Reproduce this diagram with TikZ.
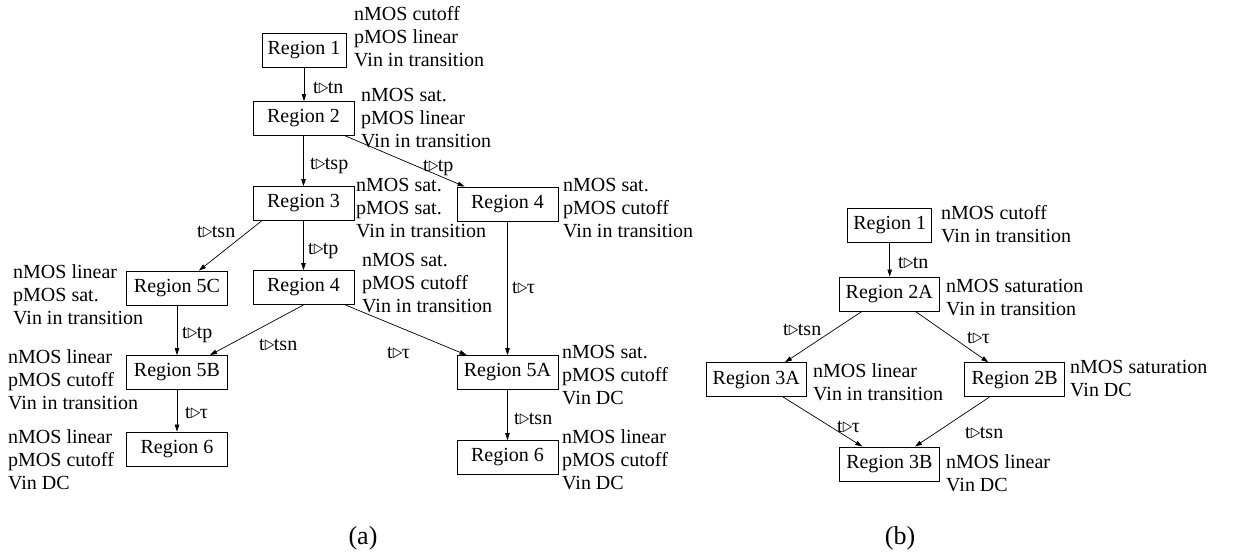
\documentclass[tikz,border=0pt]{standalone}
\usepackage{fontspec}
\setmainfont{Liberation Serif}
\usetikzlibrary{arrows.meta}
\newcommand{\trg}{\kern-0.5pt$\mathord{\triangleright}$\kern-0.5pt}
\begin{document}
\begin{tikzpicture}[x=1pt,y=-1pt,
  every node/.style={font=\fontsize{20}{23}\selectfont},
  rbox/.style={draw,line width=0.9pt,inner sep=0pt,minimum width=101pt,minimum height=34pt},
  rsmall/.style={rbox,minimum width=84pt},
  rb/.style={rbox,minimum width=100pt},
  lab/.style={anchor=west,align=left,inner sep=0pt},
  elab/.style={anchor=base west,inner sep=0pt},
  captext/.style={font=\fontsize{26}{29}\selectfont,inner sep=0pt},
  arr/.style={line width=0.7pt,-{Triangle[length=7pt,width=4.5pt]}}]
\useasboundingbox (0,0) rectangle (1235,557);
% ---------- panel (a) ----------
\node[rsmall] (A1) at (304,50.5) {Region 1};
\node[rbox] (A2) at (303.5,118.5) {Region 2};
\node[rbox] (A3) at (303.5,203.5) {Region 3};
\node[rbox] (A4r) at (507.5,204) {Region 4};
\node[rbox] (A4m) at (303.5,287.5) {Region 4};
\node[rbox] (A5C) at (177,288) {Region 5C};
\node[rbox] (A5B) at (177,372.5) {Region 5B};
\node[rbox] (A6l) at (177,449) {Region 6};
\node[rbox] (A5A) at (507.5,372.5) {Region 5A};
\node[rbox] (A6r) at (507.5,457.5) {Region 6};

\node[lab] (L1) at (354,36.5) {nMOS cutoff\\pMOS linear\\Vin in transition};
\node[lab] (L2) at (361,118) {nMOS sat.\\pMOS linear\\Vin in transition};
\node[lab] (L3) at (356,208) {nMOS sat.\\pMOS sat.\\Vin in transition};
\node[lab] (L4r) at (563,208) {nMOS sat.\\pMOS cutoff\\Vin in transition};
\node[lab] (L4m) at (362,283) {nMOS sat.\\pMOS cutoff\\Vin in transition};
\node[lab] (L5C) at (13,295) {nMOS linear\\pMOS sat.\\Vin in transition};
\node[lab] (L5B) at (8,380) {nMOS linear\\pMOS cutoff\\Vin in transition};
\node[lab] (L6l) at (8,460) {nMOS linear\\pMOS cutoff\\Vin DC};
\node[lab] (L5A) at (562,375) {nMOS sat.\\pMOS cutoff\\Vin DC};
\node[lab] (L6r) at (562,460) {nMOS linear\\pMOS cutoff\\Vin DC};

\draw[arr] (A1.south) -- (A1.south |- A2.north);
\draw[arr] (A2.south) -- (A2.south |- A3.north);
\draw[arr] ([xshift=-9pt]A2.south east) -- ([xshift=8pt]A4r.north west);
\draw[arr] ([xshift=9pt]A3.south west) -- ([xshift=22pt]A5C.north);
\draw[arr] (A3.south) -- (A3.south |- A4m.north);
\draw[arr] (A4m.south) -- ([xshift=33pt]A5B.north);
\draw[arr] ([xshift=-9pt]A4m.south east) -- ([xshift=10pt]A5A.north west);
\draw[arr] (A4r.south) -- (A5A.north);
\draw[arr] (A5C.south) -- (A5B.north);
\draw[arr] (A5B.south) -- (A6l.north);
\draw[arr] (A5A.south) -- (A6r.north);

\node[elab] (e1) at (313,93) {t\trg tn};
\node[elab] (e2) at (310,169) {t\trg tsp};
\node[elab] (e3) at (423,171) {t\trg tp};
\node[elab] (e4) at (197,237) {t\trg tsn};
\node[elab] (e5) at (308,254) {t\trg tp};
\node[elab] (e6) at (182,338) {t\trg tp};
\node[elab] (e7) at (259,350) {t\trg tsn};
\node[elab] (e8) at (387,358) {t\trg τ};
\node[elab] (e9) at (512,293) {t\trg τ};
\node[elab] (e10) at (185,418) {t\trg τ};
\node[elab] (e11) at (514,424) {t\trg tsn};

% ---------- panel (b) ----------
\node[rsmall] (B1) at (889.7,225.5) {Region 1};
\node[rb] (B2A) at (889.3,294) {Region 2A};
\node[rb] (B3A) at (756.3,379.7) {Region 3A};
\node[rb] (B2B) at (1014.7,379.7) {Region 2B};
\node[rb] (B3B) at (889.3,464) {Region 3B};

\node[lab] (LB1) at (941,224.5) {nMOS cutoff\\Vin in transition};
\node[lab] (LB2A) at (946,297.5) {nMOS saturation\\Vin in transition};
\node[lab] (LB3A) at (813,382) {nMOS linear\\Vin in transition};
\node[lab] (LB2B) at (1070,379) {nMOS saturation\\Vin DC};
\node[lab] (LB3B) at (946,473) {nMOS linear\\Vin DC};

\draw[arr] (B1.south) -- (B1.south |- B2A.north);
\draw[arr] ([xshift=23pt]B2A.south west) -- ([xshift=28.7pt]B3A.north);
\draw[arr] ([xshift=-24.3pt]B2A.south east) -- ([xshift=-26.4pt]B2B.north);
\draw[arr] ([xshift=27pt]B3A.south) -- ([xshift=-27pt]B3B.north);
\draw[arr] ([xshift=-25.4pt]B2B.south) -- ([xshift=25.7pt]B3B.north);

\node[elab] (f1) at (898,268) {t\trg tn};
\node[elab] (f2) at (783,335) {t\trg tsn};
\node[elab] (f3) at (967,343) {t\trg τ};
\node[elab] (f4) at (837,432) {t\trg τ};
\node[elab] (f5) at (965,438) {t\trg tsn};

% ---------- captions ----------
\node[captext] (capa) at (363,538) {(a)};
\node[captext] (capb) at (900,538) {(b)};
\end{tikzpicture}
\end{document}
